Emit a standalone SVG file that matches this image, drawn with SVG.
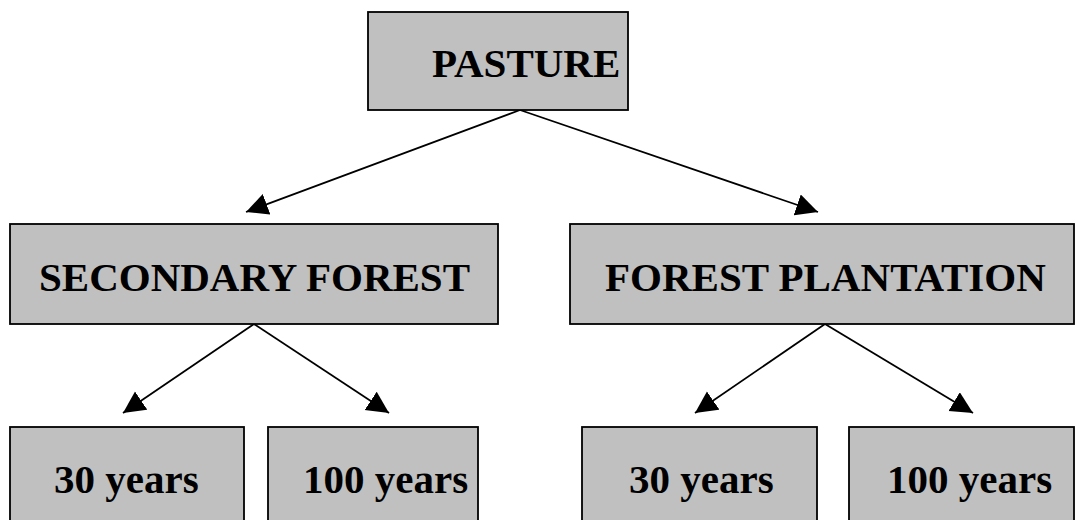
<svg xmlns="http://www.w3.org/2000/svg" width="1075" height="520" viewBox="0 0 1075 520">
<defs>
<marker id="arr" markerUnits="userSpaceOnUse" markerWidth="23" markerHeight="23" refX="22" refY="11" orient="auto">
<path d="M0,0 L22,11 L0,22 z" fill="#000"/>
</marker>
<style>
.box{fill:#c0c0c0;stroke:#000;stroke-width:1.8}
.lbl{font-family:"Liberation Serif","Times New Roman",serif;font-weight:bold;font-size:41px;fill:#000}
.conn{stroke:#000;stroke-width:1.8;fill:none;marker-end:url(#arr)}
</style>
</defs>
<g id="connectors">
<line class="conn" x1="520" y1="110" x2="246" y2="212"/>
<line class="conn" x1="520" y1="110" x2="818" y2="212"/>
<line class="conn" x1="254" y1="324" x2="123" y2="413"/>
<line class="conn" x1="254" y1="324" x2="389" y2="413"/>
<line class="conn" x1="825" y1="324" x2="695" y2="413"/>
<line class="conn" x1="825" y1="324" x2="973" y2="413"/>
</g>
<g id="pasture">
<rect class="box" x="368" y="12" width="260" height="98"/>
<text class="lbl" x="432" y="77">PASTURE</text>
</g>
<g id="secondary-forest">
<rect class="box" x="10" y="224" width="488" height="100"/>
<text class="lbl" x="39" y="291">SECONDARY FOREST</text>
</g>
<g id="forest-plantation">
<rect class="box" x="570" y="224" width="504" height="100"/>
<text class="lbl" x="605" y="291">FOREST PLANTATION</text>
</g>
<g id="sf-30">
<rect class="box" x="10" y="427" width="234" height="110"/>
<text class="lbl" x="54" y="493">30 years</text>
</g>
<g id="sf-100">
<rect class="box" x="268" y="427" width="210" height="110"/>
<text class="lbl" x="303" y="493">100 years</text>
</g>
<g id="fp-30">
<rect class="box" x="582" y="427" width="235" height="110"/>
<text class="lbl" x="629" y="493">30 years</text>
</g>
<g id="fp-100">
<rect class="box" x="849" y="427" width="225" height="110"/>
<text class="lbl" x="887" y="493">100 years</text>
</g>
</svg>
